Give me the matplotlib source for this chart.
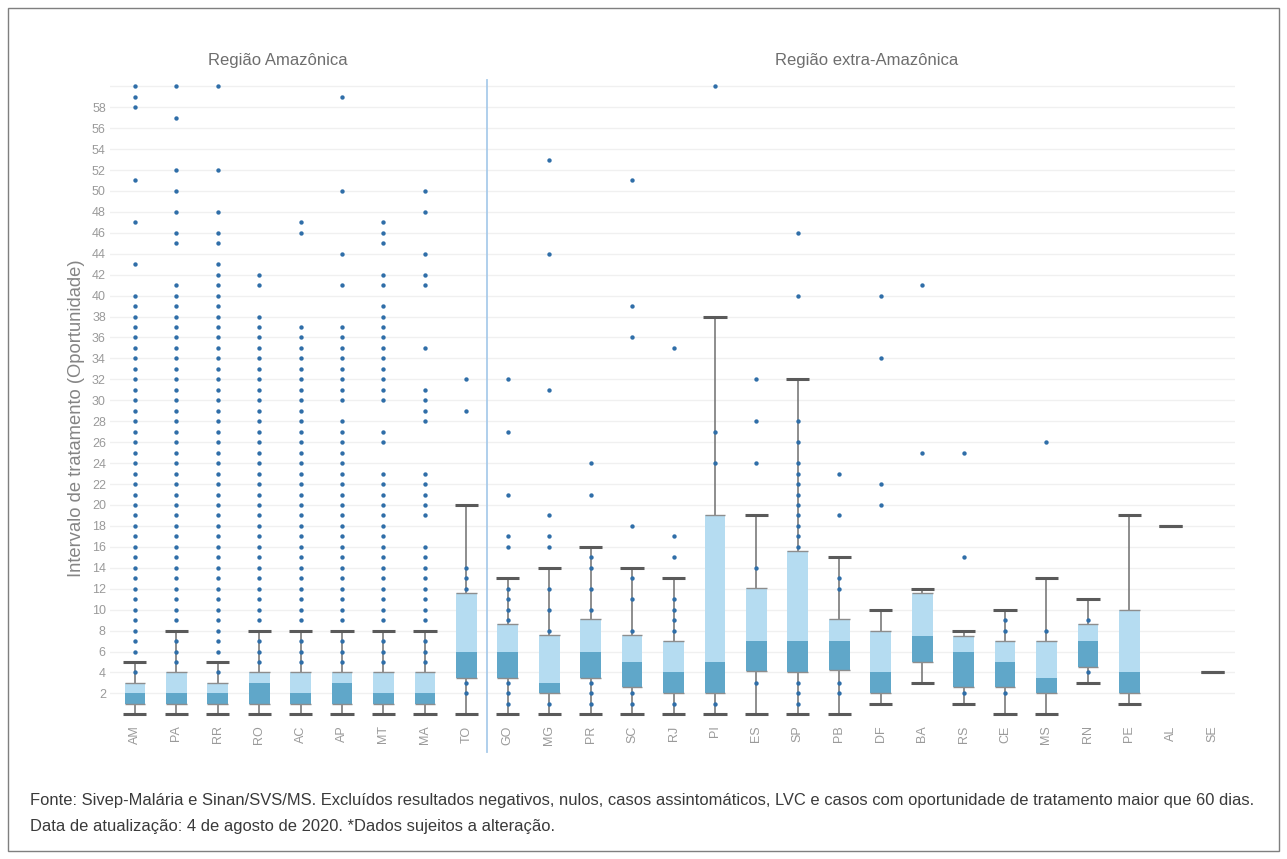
import matplotlib
matplotlib.use('Agg')
import matplotlib.pyplot as plt
from matplotlib.patches import Rectangle

plt.rcParams['font.family'] = ['Liberation Sans', 'DejaVu Sans']

states = ['AM', 'PA', 'RR', 'RO', 'AC', 'AP', 'MT', 'MA', 'TO',
          'GO', 'MG', 'PR', 'SC', 'RJ', 'PI', 'ES', 'SP', 'PB', 'DF',
          'BA', 'RS', 'CE', 'MS', 'RN', 'PE', 'AL', 'SE']

# box statistics (days)
lows = [0, 0, 0, 0, 0, 0, 0, 0, 0,
        0, 0, 0, 0, 0, 0, 0, 0, 0, 1, 3, 1, 0, 0, 3, 1, 18, 4]
q1s = [1, 1, 1, 1, 1, 1, 1, 1, 3.5,
       3.5, 2, 3.5, 2.6, 2, 2, 4.1, 4, 4.2, 2, 5, 2.6, 2.6, 2, 4.5, 2, 18, 4]
medians = [2, 2, 2, 3, 2, 3, 2, 2, 6,
           6, 3, 6, 5, 4, 5, 7, 7, 7, 4, 7.5, 6, 5, 3.5, 7, 4, 18, 4]
q3s = [3, 4, 3, 4, 4, 4, 4, 4, 11.6,
       8.6, 7.6, 9.1, 7.6, 7, 19, 12.1, 15.6, 9.1, 8, 11.6, 7.5, 7, 7, 8.6, 10, 18, 4]
highs = [5, 8, 5, 8, 8, 8, 8, 8, 20,
         13, 14, 16, 14, 13, 38, 19, 32, 15, 10, 12, 8, 10, 13, 11, 19, 18, 4]

# individual cases shown outside the boxes
points = [
    [4, 6, 7, 8, 9, 10, 11, 12, 13, 14, 15, 16, 17, 18, 19, 20, 21, 22, 23, 24, 25, 26,
     27, 28, 29, 30, 31, 32, 33, 34, 35, 36, 37, 38, 39, 40, 43, 47, 51, 58, 59, 60],
    [5, 6, 7, 9, 10, 11, 12, 13, 14, 15, 16, 17, 18, 19, 20, 21, 22, 23, 24, 25, 26, 27,
     28, 29, 30, 31, 32, 33, 34, 35, 36, 37, 38, 39, 40, 41, 45, 46, 48, 50, 52, 57, 60],
    [4, 6, 7, 8, 9, 10, 11, 12, 13, 14, 15, 16, 17, 18, 19, 20, 21, 22, 23, 24, 25, 26,
     27, 28, 29, 30, 31, 32, 33, 34, 35, 36, 37, 38, 39, 40, 41, 42, 43, 45, 46, 48, 52, 60],
    [5, 6, 7, 9, 10, 11, 12, 13, 14, 15, 16, 17, 18, 19, 20, 21, 22, 23, 24, 25, 26, 27,
     28, 29, 30, 31, 32, 33, 34, 35, 36, 37, 38, 41, 42],
    [5, 6, 7, 9, 10, 11, 12, 13, 14, 15, 16, 17, 18, 19, 20, 21, 22, 23, 24, 25, 26, 27,
     28, 29, 30, 31, 32, 33, 34, 35, 36, 37, 46, 47],
    [5, 6, 7, 9, 10, 11, 12, 13, 14, 15, 16, 17, 18, 19, 20, 21, 22, 23, 24, 25, 26, 27,
     28, 30, 31, 32, 33, 34, 35, 36, 37, 41, 44, 50, 59],
    [5, 6, 7, 9, 10, 11, 12, 13, 14, 15, 16, 17, 18, 19, 20, 21, 22, 23, 26, 27,
     30, 31, 32, 33, 34, 35, 36, 37, 38, 39, 41, 42, 45, 46, 47],
    [5, 6, 7, 9, 10, 11, 12, 13, 14, 15, 16, 19, 20, 21, 22, 23,
     28, 29, 30, 31, 35, 41, 42, 44, 48, 50],
    [2, 3, 12, 13, 14, 29, 32],
    [1, 2, 3, 9, 10, 11, 12, 16, 17, 21, 27, 32],
    [1, 8, 10, 12, 16, 17, 19, 31, 44, 53],
    [1, 2, 3, 10, 12, 14, 15, 21, 24],
    [1, 2, 8, 11, 13, 18, 36, 39, 51],
    [1, 8, 9, 10, 11, 15, 17, 35],
    [1, 24, 27, 60],
    [3, 14, 24, 28, 32],
    [1, 2, 3, 16, 17, 18, 19, 20, 21, 22, 23, 24, 26, 28, 40, 46],
    [2, 3, 12, 13, 19, 23],
    [20, 22, 34, 40],
    [25, 41],
    [2, 15, 25],
    [2, 8, 9],
    [8, 26],
    [4, 9],
    [],
    [],
    [],
]

light = '#b5dcf1'
dark = '#60a7c9'
dot = '#2f6ea8'

W, H = 1287, 859
fig = plt.figure(figsize=(W / 100, H / 100), dpi=100)
ax = fig.add_axes([110 / W, 1 - 718.5 / H, 1125 / W, (718.5 - 80) / H])
ax.set_xlim(-0.6, 26.55)
ax.set_ylim(-0.4, 60.6)

xs = list(range(len(states)))
bw = 0.5
cw = 0.56

for i in xs:
    ax.vlines(i, lows[i], highs[i], color='#7a7a7a', lw=1.2, zorder=2)
    ax.scatter([i] * len(points[i]), points[i], s=10, color=dot, lw=0, zorder=3)
    ax.bar(i, medians[i] - q1s[i], bottom=q1s[i], width=bw, color=dark, zorder=4)
    ax.bar(i, q3s[i] - medians[i], bottom=medians[i], width=bw, color=light, zorder=4)
    ax.hlines([q1s[i], q3s[i]], i - bw / 2, i + bw / 2, color='#8d8d8d', lw=1, zorder=5)
    ax.hlines([lows[i], highs[i]], i - cw / 2, i + cw / 2, color='#5a5a5a', lw=2.2, zorder=6)

ax.set_yticks(range(2, 59, 2))
ax.set_xticks(xs)
ax.set_xticklabels(states, rotation=90)
ax.tick_params(length=0, labelsize=9, labelcolor='#9a9a9a')
ax.tick_params(axis='y', pad=3)
ax.tick_params(axis='x', pad=5)
ax.yaxis.grid(True, color='#f0f0f0', lw=1)
ax.axhline(60, color='#f0f0f0', lw=1, zorder=0)
ax.set_axisbelow(True)
for s in ax.spines.values():
    s.set_visible(False)

ax.axvline(8.5, ymin=-0.052, ymax=1, color='#a9cbea', lw=1.3, clip_on=False)

fig.text(278 / W, 1 - 61 / H, 'Região Amazônica', ha='center', va='center',
         fontsize=12, color='#6e6e6e')
fig.text(867 / W, 1 - 61 / H, 'Região extra-Amazônica', ha='center', va='center',
         fontsize=12, color='#6e6e6e')
fig.text(77 / W, 1 - 418 / H, 'Intervalo de tratamento (Oportunidade)', rotation=90,
         ha='center', va='center', fontsize=13.2, color='#858585')

fig.text(30 / W, 1 - 801 / H,
         'Fonte: Sivep-Malária e Sinan/SVS/MS. Excluídos resultados negativos, nulos, casos '
         'assintomáticos, LVC e casos com oportunidade de tratamento maior que 60 dias.',
         ha='left', va='center', fontsize=11.9, color='#3a3a3a')
fig.text(30 / W, 1 - 826 / H,
         'Data de atualização: 4 de agosto de 2020. *Dados sujeitos a alteração.',
         ha='left', va='center', fontsize=11.9, color='#3a3a3a')

fig.add_artist(Rectangle((8 / W, 8 / H), 1271 / W, 843 / H, transform=fig.transFigure,
                         fill=False, edgecolor='#7f7f7f', lw=1))

fig.savefig('out.png', dpi=100)
